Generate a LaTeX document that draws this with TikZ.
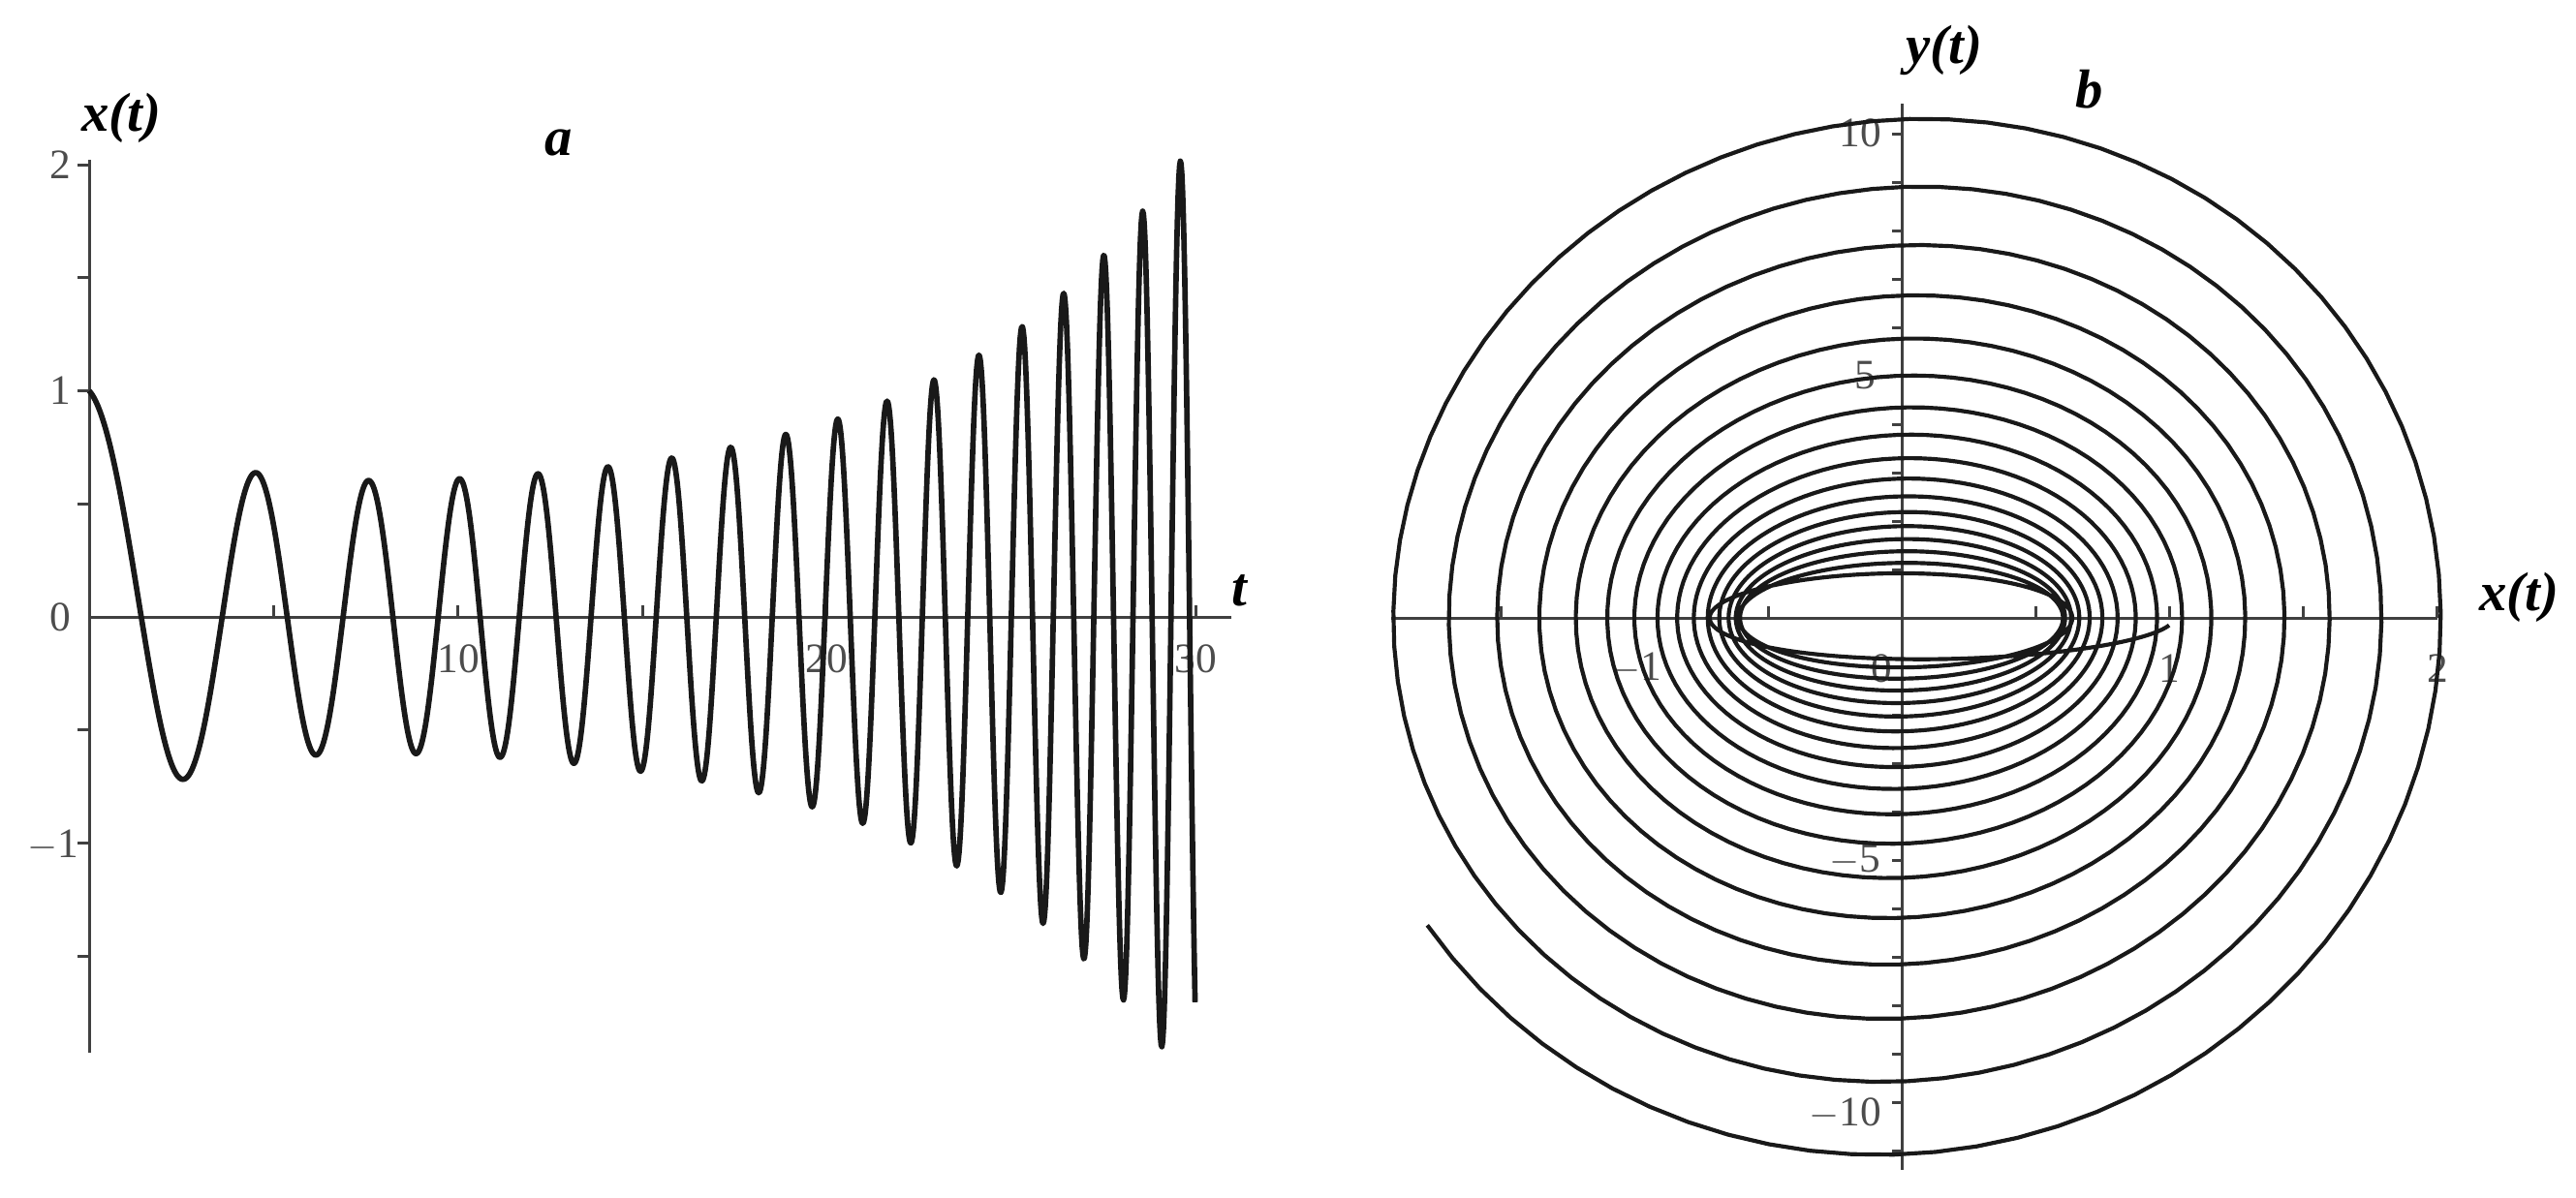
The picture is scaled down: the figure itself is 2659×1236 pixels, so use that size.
\documentclass[tikz,border=0pt]{standalone}
\usepackage{fontspec}
\setmainfont{Liberation Serif}
\begin{document}
\begin{tikzpicture}[x=0.3pt,y=-0.3pt,
  declare function={
    Aa(\t)=0.45*exp(-\t/2.5)+0.55+0.0135*(exp(\t/6.3)-1);
    Ad(\t)=-0.18*exp(-\t/2.5)+0.0135/6.3*exp(\t/6.3);
    ph(\t)=0.986*\t+0.0887*\t*\t;
    pd(\t)=0.986+0.1774*\t;
    xx(\t)=Aa(\t)*cos(deg(ph(\t)));
    yy(\t)=Ad(\t)*cos(deg(ph(\t)))-Aa(\t)*pd(\t)*sin(deg(ph(\t)));},
  axis/.style={line width=0.9pt,black!75},
  tick/.style={line width=0.9pt,black!75},
  ticklab/.style={font=\fontsize{13}{15}\selectfont,text=black!70,inner sep=0pt},
  lab/.style={font=\fontsize{17}{20}\selectfont\bfseries\itshape,inner sep=0pt},
  curve/.style={line width=1.7pt,black!90,line join=round}]
\useasboundingbox (0,0) rectangle (2659,1236);
% ---------- plot a ----------
\draw[axis] (92,637) -- (1271,637);
\draw[axis] (92,165) -- (92,1087);
\foreach \v in {-1.5,-1,-0.5,0.5,1,1.5,2} \draw[tick] (80,{637-233.5*\v}) -- (92,{637-233.5*\v});
\foreach \v in {5,10,15,20,25,30} \draw[tick] ({92+38.07*\v},637) -- ({92+38.07*\v},625);
\node[ticklab] (ya2) at (62,170) {2};
\node[ticklab] (ya1) at (62,403) {1};
\node[ticklab] (ya0) at (62,637) {0};
\node[ticklab] (yam1) at (55,873) {$-$1};
\node[ticklab] (ta10) at (473,680) {10};
\node[ticklab] (ta20) at (853,680) {20};
\node[ticklab] (ta30) at (1234,680) {30};
\node[lab] (xta) at (125,122) {x(t)};
\node[lab] (ta) at (1279,610) {t};
\node[lab] (la) at (577,147) {a};
\draw[curve] plot[domain=0:30,samples=1500] ({92+38.07*\x},{637-233.5*xx(\x)});
% ---------- plot b ----------
\draw[axis] (1436,638) -- (2516,638);
\draw[axis] (1963,107) -- (1963,1208);
\foreach \v in {-1.5,-1,-0.5,0.5,1,1.5,2} \draw[tick] ({1963+276*\v},638) -- ({1963+276*\v},626);
\foreach \v in {-11,...,-1,1,2,...,10} \draw[tick] (1953,{638-50*\v}) -- (1963,{638-50*\v});
\node[ticklab] (yb10) at (1920,137) {10};
\node[ticklab] (yb5) at (1925,388) {5};
\node[ticklab] (ybm5) at (1915,888) {$-$5};
\node[ticklab] (ybm10) at (1905,1150) {$-$10};
\node[ticklab] (xbm1) at (1689,690) {$-$1};
\node[ticklab] (xb0) at (1942,690) {0};
\node[ticklab] (xb1) at (2239,690) {1};
\node[ticklab] (xb2) at (2516,690) {2};
\node[lab] (ytb) at (2007,52) {y(t)};
\node[lab] (xtb) at (2600,617) {x(t)};
\node[lab] (lb) at (2157,92) {b};
\draw[line width=1.25pt,black!90,line join=round] plot[domain=0:30,samples=2500] ({1963+276*xx(\x)},{638-50*0.85*yy(\x)});
\end{tikzpicture}
\end{document}
